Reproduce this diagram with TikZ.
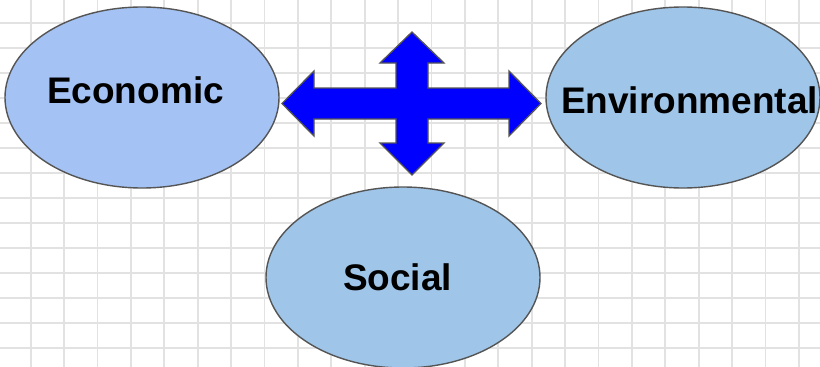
\documentclass[tikz,border=0pt]{standalone}
\usepackage{fontspec}
\setmainfont{Liberation Sans}
\usetikzlibrary{shapes.geometric}
\definecolor{gridgray}{HTML}{E2E2E2}
\definecolor{ecofill}{HTML}{A4C2F4}
\definecolor{envfill}{HTML}{9FC5E8}
\definecolor{edgegray}{HTML}{555555}
\tikzset{
  oval/.style={ellipse, draw=edgegray, line width=1.4pt, minimum width=274pt, minimum height=181pt, inner sep=0pt},
  label/.style={anchor=base, font=\fontsize{37}{40}\selectfont\bfseries, text=black, inner sep=0pt},
  gridline/.style={draw=gridgray, line width=1.8pt},
  bigarrow/.style={fill=blue, draw=edgegray, line width=1.3pt, line join=miter}
}
\begin{document}
\begin{tikzpicture}[x=1pt, y=-1pt]
\useasboundingbox (0,0) rectangle (820,367);
\clip (0,0) rectangle (820,367);
\fill[white] (0,0) rectangle (820,367);
% grid
\foreach \k in {0,...,24} {
  \draw[gridline] ({30.7+33.4*\k},0) -- ({30.7+33.4*\k},367);
}
\foreach \k in {0,...,14} {
  \draw[gridline] (0,{22.7+25.05*\k}) -- (820,{22.7+25.05*\k});
}
% ellipses
\node[oval, fill=ecofill] (eco) at (142,97.5) {};
\node[oval, fill=envfill] (env) at (683,97.5) {};
\node[oval, fill=envfill] (soc) at (403,277.5) {};
% labels
\node[label] (ecot) at (135.5,103) {Economic};
\node[label] (envt) at (689.5,113) {Environmental};
\node[label] (soct) at (397.5,290) {Social};
% four-way arrow
\draw[bigarrow] (282,103.5) -- (314,71) -- (314,88) -- (396,88) -- (396,63) -- (380,63)
  -- (412,32) -- (444,63) -- (428,63) -- (428,88) -- (509,88) -- (509,71)
  -- (541,103.5) -- (509,136) -- (509,119) -- (428,119) -- (428,143) -- (444,143)
  -- (412,175) -- (380,143) -- (396,143) -- (396,119) -- (314,119) -- (314,136) -- cycle;
\end{tikzpicture}
\end{document}
